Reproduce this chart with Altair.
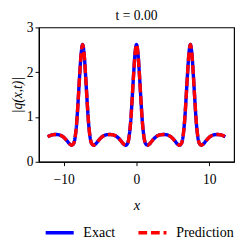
import altair as alt
import pandas as pd

xs = [-12.2, -11.6, -11.1, -10.6, -10.1, -9.6, -9.2, -8.9, -8.6, -8.4, -8.2, -8.0, -7.8, -7.6, -7.4,
      -7.2, -7.0, -6.8, -6.6, -6.4, -6.2, -5.9, -5.6, -5.2, -4.7, -4.2, -3.7, -3.2, -2.7, -2.2,
      -1.8, -1.5, -1.2, -1.0, -0.8, -0.6, -0.4, -0.2, 0.0, 0.2, 0.4, 0.6, 0.8, 1.0, 1.2, 1.5,
      1.8, 2.2, 2.7, 3.2, 3.7, 4.2, 4.7, 5.2, 5.6, 5.9, 6.2, 6.4, 6.6, 6.8, 7.0, 7.2, 7.4,
      7.6, 7.8, 8.0, 8.2, 8.4, 8.6, 8.9, 9.2, 9.6, 10.1, 10.6, 11.1, 11.6, 12.2]
exact_y = [0.56, 0.60, 0.61, 0.60, 0.56, 0.48, 0.40, 0.37, 0.42, 0.58, 0.90, 1.40, 1.95, 2.42, 2.62,
           2.42, 1.95, 1.40, 0.90, 0.58, 0.42, 0.37, 0.40, 0.48, 0.56, 0.60, 0.61, 0.60, 0.56, 0.48,
           0.40, 0.37, 0.42, 0.58, 0.90, 1.40, 1.95, 2.42, 2.62, 2.42, 1.95, 1.40, 0.90, 0.58, 0.42, 0.37,
           0.40, 0.48, 0.56, 0.60, 0.61, 0.60, 0.56, 0.48, 0.40, 0.37, 0.42, 0.58, 0.90, 1.40, 1.95, 2.42, 2.62,
           2.42, 1.95, 1.40, 0.90, 0.58, 0.42, 0.37, 0.40, 0.48, 0.56, 0.60, 0.61, 0.60, 0.56]
pred_y = list(exact_y)
series = ["Exact", "Prediction"]
colors = ["#0000ff", "#ff0000"]
x_ticks = [-10, 0, 10]
y_ticks = [0, 1, 2, 3]

df = pd.concat([
    pd.DataFrame({"x": xs, "y": exact_y, "s": series[0]}),
    pd.DataFrame({"x": xs, "y": pred_y, "s": series[1]}),
])

FONT = "Liberation Serif"

leg = dict(title=None, orient="none", direction="horizontal", legendX=5, legendY=196,
           symbolType="stroke", symbolSize=841, symbolStrokeWidth=3.5,
           labelFont=FONT, labelFontSize=14.5, labelColor="black", columnPadding=16,
           labelOffset=8, gridAlign="none")

chart = alt.Chart(df).mark_line(strokeWidth=3.5, interpolate="monotone").encode(
    x=alt.X("x:Q", scale=alt.Scale(domain=[-13.4, 13.4], nice=False, zero=False),
            axis=alt.Axis(values=x_ticks, title="x", titleFontStyle="italic")),
    y=alt.Y("y:Q", scale=alt.Scale(domain=[0, 3], nice=False),
            axis=alt.Axis(values=y_ticks, title="|q(x,t)|", titleFontStyle="italic",
                          titleFontSize=14, titlePadding=2)),
    color=alt.Color("s:N", scale=alt.Scale(domain=series, range=colors), legend=alt.Legend(**leg)),
    strokeDash=alt.StrokeDash("s:N", scale=alt.Scale(domain=series, range=[[1, 0], [9, 4]]),
                              legend=alt.Legend(**leg)),
    order=alt.Order("s:N"),
).properties(
    width=202, height=139,
    title=alt.TitleParams("t = 0.00", font=FONT, fontSize=14, fontWeight="normal", offset=-2),
    autosize=alt.AutoSizeParams(type="none"),
    padding={"left": 32, "top": 16, "right": 3, "bottom": 82},
).configure_view(
    stroke="black", strokeWidth=1.2
).configure_axis(
    labelFont=FONT, labelFontSize=14, labelColor="black",
    titleFont=FONT, titleFontSize=15, titleColor="black", titleFontWeight="normal",
    domainColor="black", tickColor="black", grid=False, tickSize=4, domainWidth=1.2,
).configure_axisX(titlePadding=12, labelPadding=7)

chart.save("out.html", embed_options={"renderer": "svg", "actions": False})
